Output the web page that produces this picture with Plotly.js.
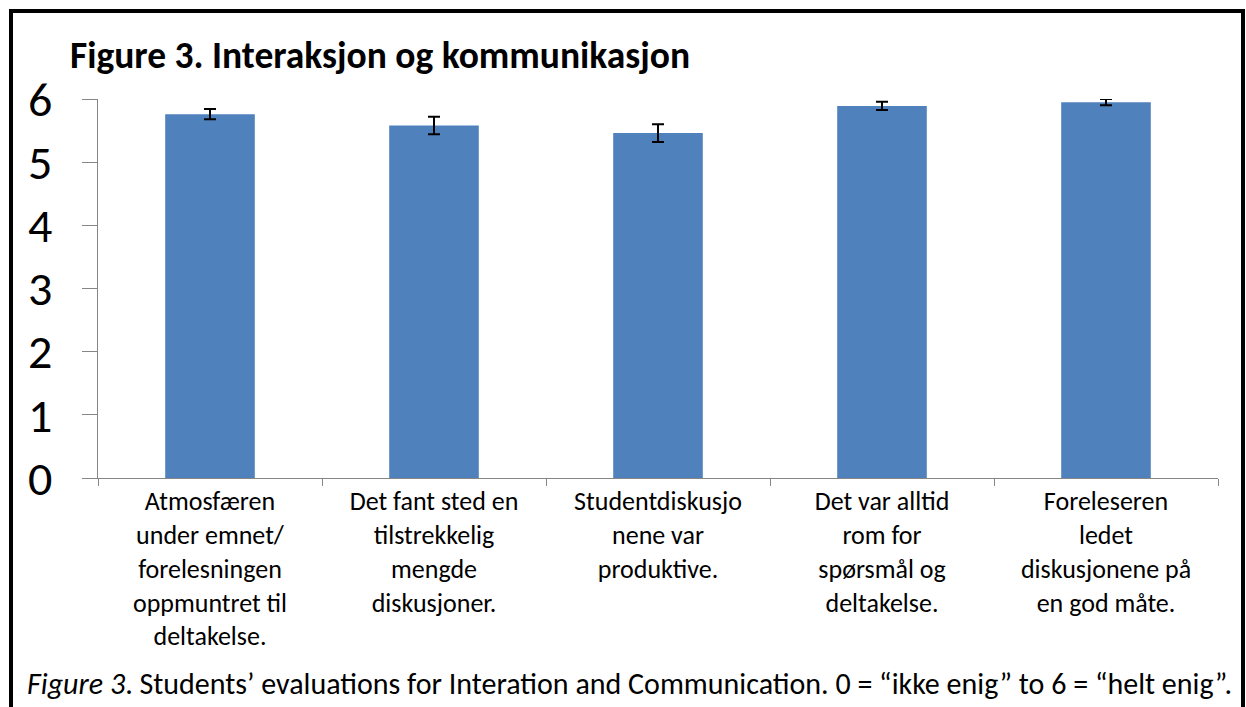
<!DOCTYPE html>
<html>
<head>
<meta charset="utf-8">
<script src="https://cdn.plot.ly/plotly-3.0.1.min.js"></script>
<style>
  html, body { margin: 0; padding: 0; background: #fff; overflow: hidden; }
  #frame { position: absolute; left: 9px; top: 9px; width: 1228px; height: 720px; border: 4px solid #000; pointer-events: none; z-index: 5; }
  #chart { position: absolute; left: 0; top: 0; width: 1246px; height: 707px; }
</style>
</head>
<body>
<div id="chart"></div>
<div id="frame"></div>
<script>
const categories = [
  "Atmosfæren<br>under emnet/<br>forelesningen<br>oppmuntret til<br>deltakelse.",
  "Det fant sted en<br>tilstrekkelig<br>mengde<br>diskusjoner.",
  "Studentdiskusjo<br>nene var<br>produktive.",
  "Det var alltid<br>rom for<br>spørsmål og<br>deltakelse.",
  "Foreleseren<br>ledet<br>diskusjonene på<br>en god måte."
];
const means = [5.76, 5.58, 5.46, 5.89, 5.95];
const errors = [0.08, 0.14, 0.14, 0.065, 0.05];
const yTicks = [0, 1, 2, 3, 4, 5, 6];

const FONT = "Carlito, Calibri, Lato, 'Open Sans', sans-serif";

const trace = {
  type: 'bar',
  x: categories,
  y: means,
  width: 0.4,
  marker: { color: '#4F81BD', line: { width: 0 } },
  error_y: { type: 'data', array: errors, visible: true, color: '#000', thickness: 2, width: 6 },
  hoverinfo: 'none'
};

const layout = {
  width: 1246, height: 707,
  margin: { l: 98, r: 28, t: 99, b: 229 },
  paper_bgcolor: '#fff', plot_bgcolor: '#fff',
  showlegend: false,
  font: { family: FONT, color: '#000' },
  title: {
    text: '<b>Figure 3. Interaksjon og kommunikasjon</b>',
    font: { family: FONT, size: 37.5, color: '#000' },
    xref: 'container', yref: 'container',
    x: 70 / 1246, xanchor: 'left',
    y: 1 - 55 / 707, yanchor: 'middle'
  },
  xaxis: {
    type: 'category',
    showline: true, linecolor: '#868686', linewidth: 1,
    ticks: 'outside', tickson: 'boundaries', ticklen: 7, tickcolor: '#868686',
    tickfont: { family: FONT, size: 26, color: '#000' },
    showgrid: false, zeroline: false, tickangle: 0,
    automargin: false
  },
  yaxis: {
    range: [0, 6],
    tickvals: yTicks,
    ticktext: yTicks.map(String),
    showline: true, linecolor: '#868686', linewidth: 1,
    ticks: 'outside', ticklen: 15, tickcolor: '#868686',
    tickfont: { family: FONT, size: 48, color: '#000' },
    ticklabelstandoff: 20,
    showgrid: false, zeroline: false,
    automargin: false
  },
  annotations: [{
    xref: 'paper', yref: 'paper',
    x: (25 - 98) / 1120, y: (478 - 683) / 379,
    xanchor: 'left', yanchor: 'middle',
    showarrow: false,
    text: '<i>Figure 3</i>. Students’ evaluations for Interation and Communication. 0 = “ikke enig” to 6 = “helt enig”.',
    font: { family: FONT, size: 30, color: '#000' }
  }]
};

Plotly.newPlot('chart', [trace], layout, { displayModeBar: false, staticPlot: true });
</script>
</body>
</html>
